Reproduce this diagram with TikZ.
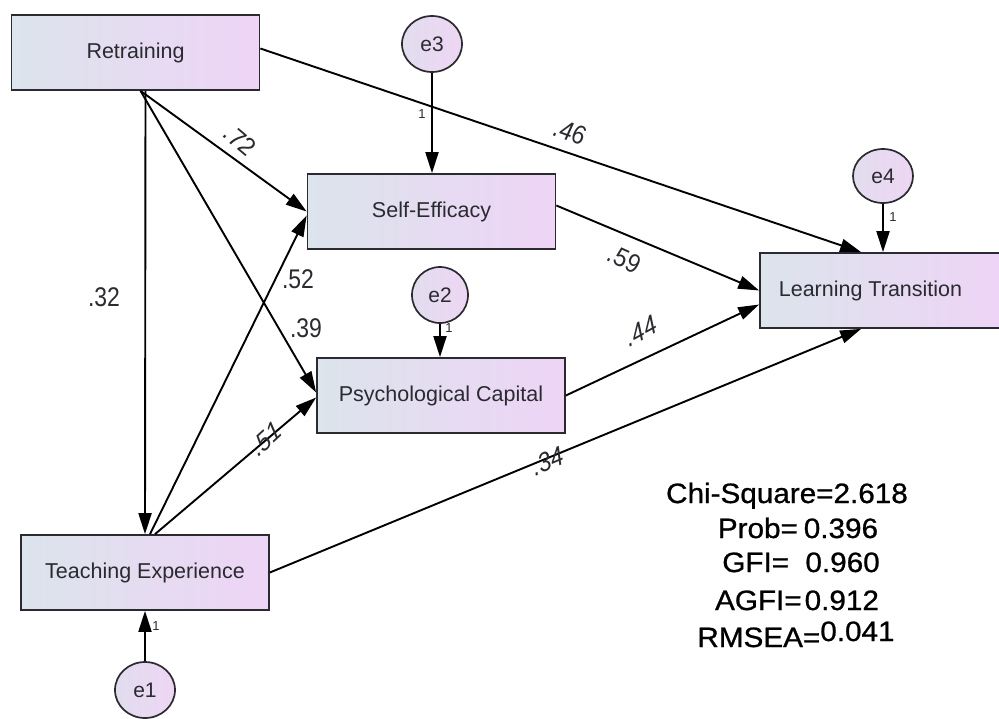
\documentclass[tikz,border=0pt]{standalone}
\usepackage{fontspec}
\setmainfont{Liberation Sans}
\newfontfamily\statfont[FakeBold=0.8]{Liberation Sans}
\usetikzlibrary{arrows.meta,calc,shapes.geometric}
\definecolor{boxL}{HTML}{DCE4EC}
\definecolor{boxR}{HTML}{EED4F6}
\definecolor{circL}{HTML}{E2DDEE}
\definecolor{circR}{HTML}{EED6F4}
\definecolor{ink}{HTML}{2A2A30}
\begin{document}
\begin{tikzpicture}[x=1pt,y=-1pt,
 box/.style={draw=ink, line width=1.7pt, left color=boxL, right color=boxR,
   minimum width=248pt, minimum height=75pt, inner sep=0pt,
   font=\fontsize{21.5}{24}\selectfont, text=ink},
 err/.style={ellipse, draw=ink, line width=1.7pt, left color=circL, right color=circR,
   minimum width=60pt, minimum height=56pt, inner sep=0pt,
   font=\fontsize{21}{24}\selectfont, text=ink},
 pathar/.style={draw=black, line width=1.9pt, -{Triangle[length=21pt,width=13pt]}},
 coef/.style={font=\fontsize{27}{28}\selectfont, text=ink, inner sep=0pt, xscale=0.85},
 one/.style={font=\fontsize{13}{14}\selectfont, text=ink, inner sep=0pt},
 stat/.style={font=\statfont\fontsize{28}{30}\selectfont, text=black, inner sep=0pt, xscale=1.06, anchor=base}
]
\useasboundingbox (0,0) rectangle (999,718);
\fill[white] (0,0) rectangle (999,718);

% nodes
\node[box] (R)  at (135.5,52.5) {Retraining};
\node[box] (SE) at (431.5,211.5) {Self-Efficacy};
\node[box] (PC) at (441,395.5) {Psychological Capital};
\node[box, minimum width=241pt] (LT) at (880.5,290.5) {\hspace*{-20pt}Learning Transition};
\node[box] (TE) at (145,572.5) {Teaching Experience};

\node[err] (e3) at (432,44) {e3};
\node[err, minimum width=56pt] (e2) at (440,295) {e2};
\node[err, minimum height=54pt] (e4) at (883,176) {e4};
\node[err] (e1) at (145,690) {e1};

% paths
\draw[pathar] ($(R.south)+(10,0)$) -- (TE.north);
\draw[pathar] ($(R.south)+(5,0)$) -- (SE.west);
\draw[pathar] ($(R.south)+(5,0)$) -- ($(PC.west)+(0,-3)$);
\draw[pathar] ($(R.east)+(0,-4)$) -- ($(LT.north west)+(102,0)$);
\draw[pathar] ($(SE.east)+(0,-6)$) -- (LT.west);
\draw[pathar] (PC.east) -- ($(LT.west)+(0,14)$);
\draw[pathar] (TE.east) -- ($(LT.south west)+(102,0)$);
\draw[pathar] ($(TE.north)+(5,0)$) -- ($(SE.west)+(0,4)$);
\draw[pathar] ($(TE.north)+(10,0)$) -- ($(PC.west)+(0,2)$);
\draw[pathar] (e3) -- (e3 |- SE.north);
\draw[pathar] (e2) -- (e2 |- PC.north);
\draw[pathar] (e4) -- (e4 |- LT.north);
\draw[pathar] (e1) -- (e1 |- TE.south);

% coefficient labels
\node[coef] (c32) at (104,297) {.32};
\node[coef, rotate=-36] (c72) at (240,140) {\itshape .72};
\node[coef, rotate=-17] (c46) at (570,132) {\itshape .46};
\node[coef, rotate=-21] (c59) at (624,259) {\itshape .59};
\node[coef, rotate=25] (c44) at (641,331) {\itshape .44};
\node[coef] (c52) at (298,279) {.52};
\node[coef] (c39) at (306,328) {.39};
\node[coef, rotate=38] (c51) at (266,439) {\itshape .51};
\node[coef, rotate=20] (c34) at (548,461) {\itshape .34};

\node[one] (o3) at (422,114) {1};
\node[one] (o2) at (449,328) {1};
\node[one] (o4) at (893,217) {1};
\node[one] (o1) at (156,626) {1};

% fit statistics
\node[stat] (s1) at (787,503) {Chi-Square=2.618};
\node[stat] (s2) at (798,538) {Prob=\hspace{0.2em}0.396};
\node[stat] (s3) at (801,572) {GFI=\hspace{0.55em}0.960};
\node[stat] (s4) at (797,610) {AGFI=\hspace{0.1em}0.912};
\node[stat] (s5) at (796,647) {RMSEA=\raisebox{6pt}{0.041}};
\end{tikzpicture}
\end{document}
